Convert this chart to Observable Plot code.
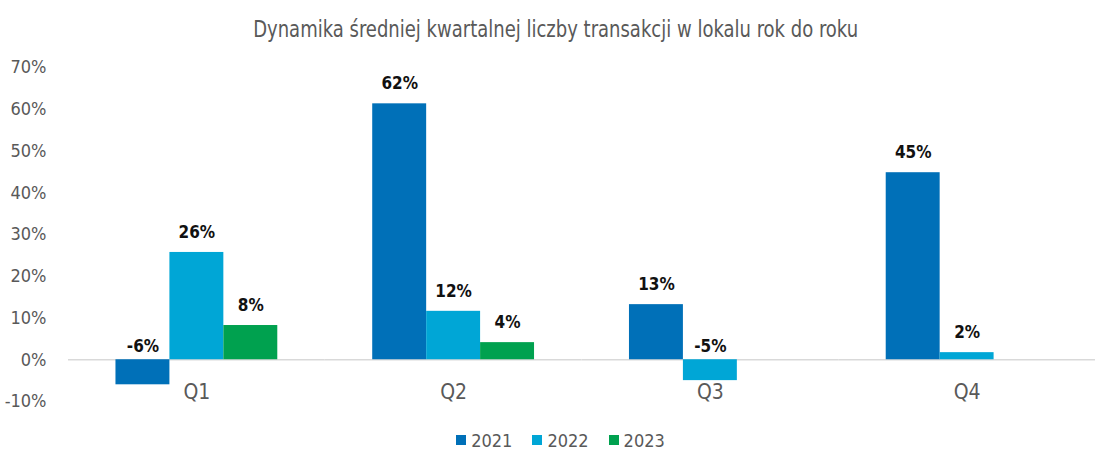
<!DOCTYPE html>
<html>
<head>
<meta charset="utf-8">
<script src="https://cdn.jsdelivr.net/npm/d3@7"></script>
<script src="https://cdn.jsdelivr.net/npm/@observablehq/plot@0.6"></script>
<style>
  html, body { margin: 0; padding: 0; background: #fff; }
  body { width: 1111px; height: 468px; overflow: hidden; font-family: "DejaVu Sans Condensed", "Liberation Sans Narrow", "Roboto", sans-serif; }
  #title { height: 50px; line-height: 58px; text-align: center; color: #595959; }
  #title span { display: inline-block; font-size: 23px; transform: scaleX(0.87); transform-origin: center; white-space: nowrap; }
  #legend { height: 40px; display: flex; justify-content: center; align-items: center; gap: 20px; font-size: 18px; color: #595959; padding-left: 10px; }
  #legend .item { display: flex; align-items: center; gap: 5px; }
  #legend .sw { width: 10px; height: 10px; display: inline-block; }
</style>
</head>
<body>
<div id="title"><span>Dynamika średniej kwartalnej liczby transakcji w lokalu rok do roku</span></div>
<div id="chart"></div>
<div id="legend"></div>
<script>
const quarters = ["Q1", "Q2", "Q3", "Q4"];
const years = ["2021", "2022", "2023"];
const colors = ["#0070b8", "#00a6d6", "#00a14f"];
const values2021 = [-6.0, 61.3, 13.2, 44.8];
const values2022 = [25.7, 11.6, -5.0, 1.7];
const values2023 = [8.2, 4.1, null, null];
const labels2021 = ["-6%", "62%", "13%", "45%"];
const labels2022 = ["26%", "12%", "-5%", "2%"];
const labels2023 = ["8%", "4%", null, null];
const yTicks = [-10, 0, 10, 20, 30, 40, 50, 60, 70];

const series = [
  [years[0], values2021, labels2021],
  [years[1], values2022, labels2022],
  [years[2], values2023, labels2023]
];
const rows = [];
quarters.forEach((q, i) => {
  series.forEach(([year, vals, labs]) => {
    if (vals[i] != null) rows.push({q, year, value: vals[i], label: labs[i]});
  });
});

const font = '"DejaVu Sans Condensed", "Liberation Sans Narrow", "Roboto", sans-serif';

const chart = Plot.plot({
  width: 1111,
  height: 370,
  marginLeft: 68,
  marginRight: 16,
  marginTop: 17,
  marginBottom: 19,
  style: { fontFamily: font, fontSize: "18px", color: "#595959", background: "#fff" },
  fx: { domain: quarters, padding: 0, round: false, axis: null },
  x: { domain: years, paddingInner: 0, paddingOuter: 0.88, round: false, axis: null },
  y: { domain: [-10, 70], axis: null },
  color: { domain: years, range: colors },
  marks: [
    Plot.axisY(yTicks, { anchor: "left", tickSize: 0, tickPadding: 22, tickFormat: d => d + "%", fontSize: 18, fill: "#595959", label: null }),
    Plot.ruleY([0], { stroke: "#d9d9d9", strokeWidth: 1.5 }),
    Plot.barY(rows, { fx: "q", x: "year", y: "value", fill: "year" }),
    Plot.text(rows.filter(d => d.value >= 0), { fx: "q", x: "year", y: "value", text: "label", dy: -20, fill: "#111", fontWeight: "bold", fontSize: 17 }),
    Plot.text(rows.filter(d => d.value < 0), { fx: "q", x: "year", y: () => 0, text: "label", dy: -13, fill: "#111", fontWeight: "bold", fontSize: 17 }),
    Plot.text(quarters, { fx: d => d, y: () => 0, text: d => d, dy: 33, fill: "#595959", fontSize: 21 })
  ]
});
document.getElementById("chart").appendChild(chart);

const legend = document.getElementById("legend");
years.forEach((y, i) => {
  const item = document.createElement("div");
  item.className = "item";
  item.innerHTML = `<span class="sw" style="background:${colors[i]}"></span><span>${y}</span>`;
  legend.appendChild(item);
});
</script>
</body>
</html>
